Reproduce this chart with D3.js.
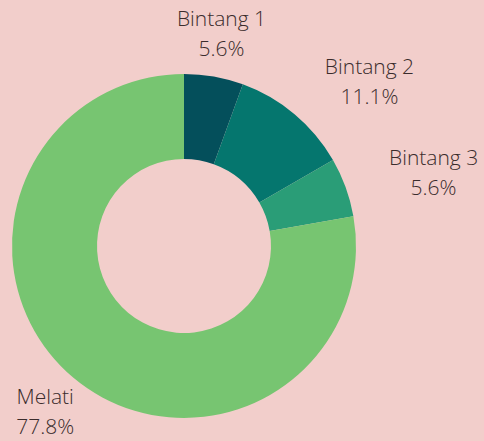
<!DOCTYPE html>
<html>
<head>
<meta charset="utf-8">
<script src="https://cdn.jsdelivr.net/npm/d3@7"></script>
<style>
  html, body { margin: 0; padding: 0; background: #f2cecb; }
  svg { display: block; }
</style>
</head>
<body>
<div id="chart"></div>
<script>
// data
const categories = ["Bintang 1", "Bintang 2", "Bintang 3", "Melati"];
const counts = [1, 2, 1, 14];
const pctLabels = ["5.6%", "11.1%", "5.6%", "77.8%"];
const colors = ["#044f5b", "#05766e", "#2a9d77", "#77c571"];

const width = 484, height = 441;
const cx = 184, cy = 246;
const outerR = 172, innerR = 87, labelR = 216;

const svg = d3.select("#chart")
    .append("svg")
    .attr("width", width)
    .attr("height", height);

svg.append("rect")
    .attr("width", width)
    .attr("height", height)
    .attr("fill", "#f2cecb");

const g = svg.append("g")
    .attr("transform", `translate(${cx}, ${cy})`);

const pie = d3.pie().sort(null).value(d => d);
const arcs = pie(counts);

const arc = d3.arc()
    .innerRadius(innerR)
    .outerRadius(outerR);

const color = d3.scaleOrdinal()
    .domain(categories)
    .range(colors);

g.selectAll("path.slice")
  .data(arcs)
  .enter()
  .append("path")
    .attr("class", "slice")
    .attr("d", arc)
    .attr("fill", (d, i) => color(categories[i]));

// labels outside the ring, two lines each
const labels = g.selectAll("text.lbl")
  .data(arcs)
  .enter()
  .append("text")
    .attr("class", "lbl")
    .attr("font-family", "'Open Sans', sans-serif")
    .attr("font-size", "21px")
    .attr("font-weight", 300)
    .attr("fill", "#3a2c2c")
    .attr("text-anchor", d => {
        const a = (d.startAngle + d.endAngle) / 2;
        return Math.sin(a) > 0.5 ? "start" : "middle";
    })
    .attr("transform", d => {
        const a = (d.startAngle + d.endAngle) / 2;
        const x = labelR * Math.sin(a) + (Math.sin(a) > 0.5 ? 2 : 0);
        const y = -labelR * Math.cos(a);
        return `translate(${x}, ${y})`;
    });

labels.append("tspan")
    .attr("x", 0)
    .attr("y", -7)
    .text((d, i) => categories[i]);

labels.append("tspan")
    .attr("x", 0)
    .attr("y", 23)
    .text((d, i) => pctLabels[i]);

// recenter second line under the first for start-anchored labels
labels.each(function(d) {
    const t = d3.select(this);
    if (t.attr("text-anchor") === "start") {
        const spans = t.selectAll("tspan").nodes();
        const w0 = spans[0].getComputedTextLength();
        const w1 = spans[1].getComputedTextLength();
        d3.select(spans[1]).attr("x", (w0 - w1) / 2);
    }
});
</script>
</body>
</html>
